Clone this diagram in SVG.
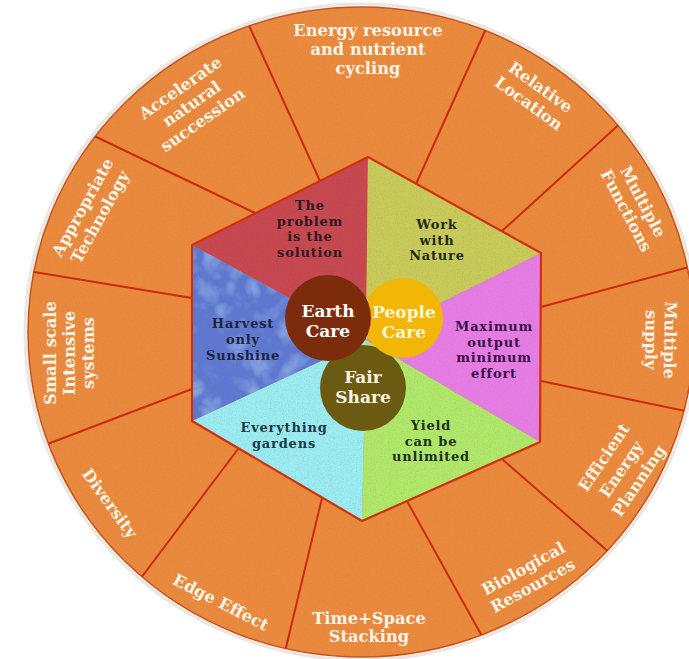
<svg xmlns="http://www.w3.org/2000/svg" width="689" height="659" viewBox="0 0 689 659">
<defs>
  <clipPath id="ringClip"><ellipse cx="361" cy="332" rx="333" ry="325"/></clipPath>
  <filter id="grain" x="0" y="0" width="1" height="1">
    <feTurbulence type="fractalNoise" baseFrequency="0.85" numOctaves="2" seed="2" result="n"/>
    <feColorMatrix in="n" type="matrix" values="0 0 0 0 0.45  0 0 0 0 0.2  0 0 0 0 0.1  0 0 0 1.8 -0.8" result="c"/>
    <feComposite in="c" in2="SourceGraphic" operator="in"/>
  </filter>
  <filter id="swirl" x="0" y="0" width="1" height="1">
    <feTurbulence type="turbulence" baseFrequency="0.04" numOctaves="2" seed="7" result="t"/>
    <feColorMatrix in="t" type="matrix" values="0 0 0 0 0.55  0 0 0 0 0.8  0 0 0 0 1  2.2 0 0 0 -0.35" result="c"/>
    <feComposite in="c" in2="SourceGraphic" operator="in"/>
  </filter>
  <style>
    .outer { font-family: "DejaVu Serif", "Liberation Serif", serif; font-weight: bold; font-size: 16.3px; fill: #fdf4e8; text-anchor: middle; }
    .inner { font-family: "DejaVu Serif", "Liberation Serif", serif; font-weight: bold; font-size: 13px; letter-spacing: 0.8px; text-anchor: middle; }
    .core { font-family: "DejaVu Serif", "Liberation Serif", serif; font-weight: bold; font-size: 17px; text-anchor: middle; }
    .div { stroke: #cc2a0a; stroke-width: 2; fill: none; }
  </style>
</defs>
<rect width="689" height="659" fill="#ffffff"/>

<g id="ring">
  <ellipse cx="361" cy="332" rx="336" ry="328" fill="none" stroke="#ece6e0" stroke-width="3"/>
  <ellipse cx="361" cy="332" rx="333" ry="325" fill="#eb8a3c" stroke="#c8501c" stroke-width="1.5"/>
  <ellipse cx="361" cy="332" rx="333" ry="325" fill="#000" filter="url(#grain)" opacity="0.35"/>
</g>

<g id="dividers" clip-path="url(#ringClip)">
  <line class="div" x1="320" y1="181" x2="246" y2="19"/>
  <line class="div" x1="416" y1="184" x2="489" y2="22"/>
  <line class="div" x1="502" y1="231" x2="625" y2="119"/>
  <line class="div" x1="541" y1="307" x2="700" y2="264"/>
  <line class="div" x1="541" y1="381" x2="700" y2="414"/>
  <line class="div" x1="502" y1="459" x2="618" y2="560"/>
  <line class="div" x1="407" y1="501" x2="488" y2="647"/>
  <line class="div" x1="322" y1="498" x2="282" y2="664"/>
  <line class="div" x1="238" y1="449" x2="135" y2="586"/>
  <line class="div" x1="192" y1="389" x2="37" y2="448"/>
  <line class="div" x1="192" y1="298" x2="22" y2="270"/>
  <line class="div" x1="255" y1="213" x2="88" y2="133"/>
</g>

<g id="hexagon">
  <polygon id="sec-red" points="366,340 192,245 368,157" fill="#c64650"/>
  <polygon id="sec-olive" points="366,340 368,157 541,253" fill="#c8cc5a"/>
  <polygon id="sec-magenta" points="366,340 541,253 540,442" fill="#e67ce8"/>
  <polygon id="sec-green" points="366,340 540,442 362,521" fill="#aeea6a"/>
  <polygon id="sec-cyan" points="366,340 362,521 192,421" fill="#98eef4"/>
  <polygon id="sec-blue" points="366,340 192,421 192,245" fill="#5a78d4"/>
  <polygon points="366,340 192,421 192,245" fill="#000" filter="url(#swirl)" opacity="0.45"/>
  <polygon points="368,157 541,253 540,442 362,521 192,421 192,245" fill="#000" filter="url(#grain)" opacity="0.3"/>
  <polygon points="368,157 541,253 540,442 362,521 192,421 192,245" fill="none" stroke="#d0300e" stroke-width="2.2" stroke-linejoin="round"/>
</g>

<g id="inner-labels">
  <g id="problem-solution">
    <text class="inner" fill="#2e1a22" x="310" y="210">The</text>
    <text class="inner" fill="#2e1a22" x="310" y="225.5">problem</text>
    <text class="inner" fill="#2e1a22" x="310" y="241">is the</text>
    <text class="inner" fill="#2e1a22" x="310" y="256.5">solution</text>
  </g>
  <g id="work-with-nature">
    <text class="inner" fill="#1f2a1c" x="437" y="229">Work</text>
    <text class="inner" fill="#1f2a1c" x="437" y="244.5">with</text>
    <text class="inner" fill="#1f2a1c" x="437" y="260">Nature</text>
  </g>
  <g id="maximum-output">
    <text class="inner" fill="#3a1048" x="494" y="331">Maximum</text>
    <text class="inner" fill="#3a1048" x="494" y="346.5">output</text>
    <text class="inner" fill="#3a1048" x="494" y="362">minimum</text>
    <text class="inner" fill="#3a1048" x="494" y="377.5">effort</text>
  </g>
  <g id="yield">
    <text class="inner" fill="#1c3020" x="431" y="430">Yield</text>
    <text class="inner" fill="#1c3020" x="431" y="445.5">can be</text>
    <text class="inner" fill="#1c3020" x="431" y="461">unlimited</text>
  </g>
  <g id="everything-gardens">
    <text class="inner" fill="#1a3a48" x="284" y="432">Everything</text>
    <text class="inner" fill="#1a3a48" x="284" y="448">gardens</text>
  </g>
  <g id="harvest-sunshine">
    <text class="inner" fill="#1a2440" x="243" y="328">Harvest</text>
    <text class="inner" fill="#1a2440" x="243" y="344">only</text>
    <text class="inner" fill="#1a2440" x="243" y="360">Sunshine</text>
  </g>
</g>

<g id="ethics">
  <g id="fair-share">
    <circle cx="363" cy="388" r="43" fill="#6b5a12"/>
    <text class="core" fill="#fff3e2" x="363" y="383">Fair</text>
    <text class="core" fill="#fff3e2" x="363" y="403">Share</text>
  </g>
  <g id="people-care">
    <circle cx="403" cy="318" r="40" fill="#f2b606"/>
    <text class="core" fill="#fff6d6" x="404" y="318">People</text>
    <text class="core" fill="#fff6d6" x="404" y="338">Care</text>
  </g>
  <g id="earth-care">
    <circle cx="328" cy="318" r="43" fill="#7c2c0a"/>
    <text class="core" fill="#ffffff" x="328" y="317">Earth</text>
    <text class="core" fill="#ffffff" x="328" y="337">Care</text>
  </g>
</g>

<g id="outer-labels">
  <g id="energy-resource">
    <text class="outer" x="368" y="36">Energy resource</text>
    <text class="outer" x="368" y="55">and nutrient</text>
    <text class="outer" x="368" y="74">cycling</text>
  </g>
  <g id="relative-location" transform="translate(535,95) rotate(36)">
    <text class="outer" x="0" y="-4">Relative</text>
    <text class="outer" x="0" y="16">Location</text>
  </g>
  <g id="multiple-functions" transform="translate(635,206) rotate(62)">
    <text class="outer" x="0" y="-3.5">Multiple</text>
    <text class="outer" x="0" y="15.5">Functions</text>
  </g>
  <g id="multiple-supply" transform="translate(661,340) rotate(91)">
    <text class="outer" x="0" y="-3.5">Multiple</text>
    <text class="outer" x="0" y="15.5">supply</text>
  </g>
  <g id="efficient-energy" transform="translate(621,469) rotate(-56)">
    <text class="outer" x="0" y="-15">Efficient</text>
    <text class="outer" x="0" y="6">Energy</text>
    <text class="outer" x="0" y="27">Planning</text>
  </g>
  <g id="biological-resources" transform="translate(528,577) rotate(-29)">
    <text class="outer" x="0" y="-4">Biological</text>
    <text class="outer" x="0" y="15.5">Resources</text>
  </g>
  <g id="time-space" transform="translate(369,627)">
    <text class="outer" x="0" y="-3" font-size="15.5">Time+Space</text>
    <text class="outer" x="0" y="15" font-size="15.5">Stacking</text>
  </g>
  <g id="edge-effect" transform="translate(221,602) rotate(27)">
    <text class="outer" x="0" y="6">Edge Effect</text>
  </g>
  <g id="diversity" transform="translate(110,503) rotate(54)">
    <text class="outer" x="0" y="6">Diversity</text>
  </g>
  <g id="small-scale" transform="translate(69,353) rotate(-90)">
    <text class="outer" x="0" y="-13">Small scale</text>
    <text class="outer" x="0" y="6">Intensive</text>
    <text class="outer" x="0" y="25">systems</text>
  </g>
  <g id="appropriate-technology" transform="translate(91,212) rotate(-61)">
    <text class="outer" x="0" y="-4">Appropriate</text>
    <text class="outer" x="0" y="16">Technology</text>
  </g>
  <g id="accelerate-succession" transform="translate(191,103) rotate(-35)">
    <text class="outer" x="0" y="-13">Accelerate</text>
    <text class="outer" x="0" y="6.5">natural</text>
    <text class="outer" x="0" y="26">succession</text>
  </g>
</g>
</svg>
